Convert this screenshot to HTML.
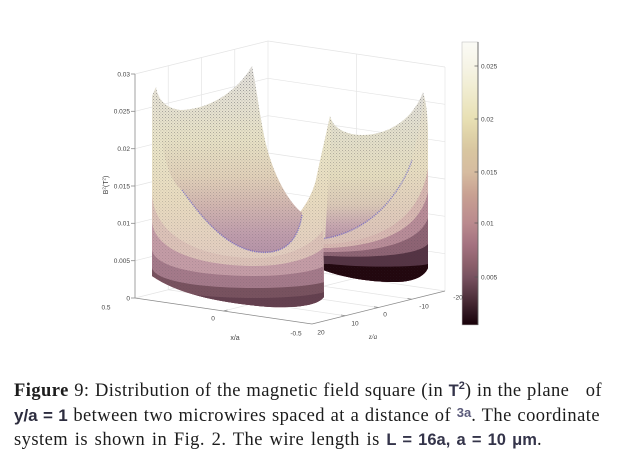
<!DOCTYPE html>
<html><head><meta charset="utf-8">
<style>
html,body{margin:0;padding:0;background:#fff;}
body{width:617px;height:469px;position:relative;overflow:hidden;}
svg{position:absolute;left:0;top:0;}
.ln{position:absolute;left:14px;font-family:"Liberation Serif",serif;font-size:18.5px;line-height:22px;color:#1c1c1c;white-space:nowrap;text-align:justify;text-align-last:justify;letter-spacing:0.45px;}
.m{font-family:"Liberation Sans",sans-serif;font-weight:bold;color:#34344a;font-size:16.5px;letter-spacing:0;}
.sp{position:relative;top:-7px;font-size:11px;}
</style></head><body>
<svg width="617" height="469" viewBox="0 0 617 469">
<defs>
<pattern id="dots" width="3" height="3" patternUnits="userSpaceOnUse">
<rect x="0" y="0" width="1" height="1" fill="#3a3a44"/>
<rect x="1.5" y="1.5" width="0.8" height="0.8" fill="#3a3a44"/>
</pattern>
<linearGradient id="DM" gradientUnits="userSpaceOnUse" x1="0" y1="60" x2="0" y2="300">
<stop offset="0" stop-color="#fff" stop-opacity="0.45"/><stop offset="0.5" stop-color="#fff" stop-opacity="0.25"/><stop offset="1" stop-color="#fff" stop-opacity="0.1"/>
</linearGradient>
<mask id="dmask"><rect x="0" y="0" width="617" height="469" fill="url(#DM)"/></mask>
<linearGradient id="LI" gradientUnits="userSpaceOnUse" x1="0" y1="64" x2="0" y2="260">
<stop offset="0" stop-color="#e2e0dc"/><stop offset="0.18" stop-color="#e6e2d4"/><stop offset="0.39" stop-color="#e8e2c6"/><stop offset="0.57" stop-color="#e2d2ba"/><stop offset="0.72" stop-color="#d2b6b0"/><stop offset="0.87" stop-color="#bf9dac"/><stop offset="1" stop-color="#b290a6"/>
</linearGradient>
<linearGradient id="RI" gradientUnits="userSpaceOnUse" x1="0" y1="90" x2="0" y2="245">
<stop offset="0" stop-color="#e2e0dc"/><stop offset="0.29" stop-color="#e4e0cc"/><stop offset="0.55" stop-color="#e6dec0"/><stop offset="0.74" stop-color="#dccab8"/><stop offset="0.87" stop-color="#c8a8b0"/><stop offset="1" stop-color="#b08ca4"/>
</linearGradient>
<linearGradient id="LF" gradientUnits="userSpaceOnUse" x1="0" y1="88" x2="0" y2="260">
<stop offset="0" stop-color="#e8e4d8"/><stop offset="0.36" stop-color="#ebe5c8"/><stop offset="0.65" stop-color="#e9dcc0"/><stop offset="1" stop-color="#e2ccc0"/>
</linearGradient>
<linearGradient id="RF" gradientUnits="userSpaceOnUse" x1="0" y1="95" x2="0" y2="240">
<stop offset="0" stop-color="#e6e2d4"/><stop offset="0.5" stop-color="#e9dfc2"/><stop offset="1" stop-color="#dcc2b8"/>
</linearGradient>
<linearGradient id="CB" x1="0" y1="0" x2="0" y2="1">
<stop offset="0" stop-color="#fbfbf6"/><stop offset="0.085" stop-color="#f6f4e6"/><stop offset="0.17" stop-color="#f0ecd0"/><stop offset="0.272" stop-color="#e8e0b4"/><stop offset="0.329" stop-color="#dfd2a8"/><stop offset="0.382" stop-color="#d8c6a0"/><stop offset="0.459" stop-color="#d6bca0"/><stop offset="0.541" stop-color="#c8a092"/><stop offset="0.64" stop-color="#ba8a8e"/><stop offset="0.717" stop-color="#a47280"/><stop offset="0.788" stop-color="#8a5f6a"/><stop offset="0.83" stop-color="#785260"/><stop offset="0.883" stop-color="#5a3a46"/><stop offset="0.929" stop-color="#40242e"/><stop offset="0.965" stop-color="#2a121c"/><stop offset="1" stop-color="#180008"/>
</linearGradient>
<clipPath id="cLO"><path d="M156,87 C158,100 166,108 180,110 C205,110 235,95 252,66 C256,85 259,110 263,130 C268,160 282,195 301,212 L323,212 L324,297 C318,305 300,308 270,307 C230,304 180,296 152,276 L152,96 Z"/></clipPath>
<clipPath id="cLF"><path d="M145,88 L156,88 C160,150 168,180 182,190 C200,215 225,248 258,252 C285,255 298,240 302,215 L302,200 L340,200 L340,340 L145,340 Z"/></clipPath>
<clipPath id="cRO"><path d="M330,116 C333,128 345,135 363,135 C385,135 412,122 423,92 C427,105 428,120 428,140 L428,268 C424,278 410,282 395,282 C370,282 345,278 323,270 L300,268 L300,212 C306,205 313,192 316,180 C320,160 326,135 330,116 Z"/></clipPath>
<clipPath id="cRF"><path d="M295,240 L327,238 C350,234 375,220 392,197 C407,178 418,150 424,94 L440,94 L440,300 L295,300 Z"/></clipPath>
</defs>

<!-- grid -->
<g stroke="#e4e4e4" stroke-width="0.7" fill="none">
<polyline points="135,298 268,265 445,291"/>
<polyline points="135,260.7 268,227.7 445,253.7"/>
<polyline points="135,223.3 268,190.3 445,216.3"/>
<polyline points="135,186 268,153 445,179"/>
<polyline points="135,148.7 268,115.7 445,141.7"/>
<polyline points="135,111.3 268,78.3 445,104.3"/>
<polyline points="135,74 268,41 445,67"/>
<line x1="168.25" y1="289.75" x2="168.25" y2="65.75"/>
<line x1="201.5" y1="281.5" x2="201.5" y2="57.5"/>
<line x1="234.75" y1="273.25" x2="234.75" y2="49.25"/>
<line x1="268" y1="265" x2="268" y2="41"/>
<line x1="356.5" y1="278" x2="356.5" y2="54"/>
<line x1="445" y1="291" x2="445" y2="67"/>
<line x1="223.5" y1="311" x2="356.5" y2="278"/>
<line x1="168.25" y1="289.75" x2="345.25" y2="315.75"/>
<line x1="201.5" y1="281.5" x2="378.5" y2="307.5"/>
<line x1="234.75" y1="273.25" x2="411.75" y2="299.25"/>
</g>

<!-- axes -->
<g stroke="#8a8a8a" stroke-width="0.8" fill="none">
<line x1="135" y1="298" x2="135" y2="74"/>
<line x1="135" y1="298" x2="312" y2="324"/>
<line x1="312" y1="324" x2="445" y2="291"/>
<line x1="131" y1="298" x2="135" y2="298"/><line x1="131" y1="260.7" x2="135" y2="260.7"/><line x1="131" y1="223.3" x2="135" y2="223.3"/><line x1="131" y1="186" x2="135" y2="186"/><line x1="131" y1="148.7" x2="135" y2="148.7"/><line x1="131" y1="111.3" x2="135" y2="111.3"/><line x1="131" y1="74" x2="135" y2="74"/>
<line x1="223.5" y1="311" x2="227.5" y2="310"/>
<line x1="345.25" y1="315.75" x2="341" y2="315"/><line x1="378.5" y1="307.5" x2="374" y2="306.8"/><line x1="411.75" y1="299.25" x2="407.5" y2="298.5"/>
</g>

<!-- right sheet -->
<g clip-path="url(#cRO)">
<rect x="290" y="85" width="150" height="210" fill="url(#RI)"/>
<path d="M298,100 L333,100 C331,150 327,200 325,242 L298,242 Z" fill="url(#LF)"/>
<g clip-path="url(#cRF)">
<rect x="290" y="85" width="150" height="210" fill="url(#RF)"/>
<path d="M295,244 L330,244 C365,241 418,230 428,168 L440,168 L440,300 L295,300 Z" fill="#d8b8b2"/>
<path d="M295,248 L330,248 C365,246 418,238 428,192 L440,192 L440,300 L295,300 Z" fill="#b88c98"/>
<path d="M295,252 L330,252 C365,252 418,247 428,218 L440,218 L440,300 L295,300 Z" fill="#8e6474"/>
<path d="M295,256 L330,256 C365,258 418,256 428,244 L440,244 L440,300 L295,300 Z" fill="#553444"/>
<path d="M295,264 L330,264 C365,268 418,267 428,264 L440,264 L440,300 L295,300 Z" fill="#22070e"/>
</g>
<rect x="290" y="85" width="150" height="210" fill="url(#dots)" mask="url(#dmask)"/>
<path d="M322,239 L327,238 C350,234 375,220 392,197 C402,184 408,172 412,160" fill="none" stroke="#4c48d0" stroke-width="1.4" stroke-dasharray="1.2 1" opacity="0.55"/>
</g>

<!-- left sheet -->
<g clip-path="url(#cLO)">
<rect x="145" y="60" width="190" height="260" fill="url(#LI)"/>
<g clip-path="url(#cLF)">
<rect x="145" y="60" width="190" height="280" fill="url(#LF)"/>
<path d="M145,195 L152,195 C156,242 210,258 255,258 C295,258 320,238 324,228 L340,228 L340,340 L145,340 Z" fill="#dcc2b8"/>
<path d="M145,222 L152,222 C156,255 210,266 255,266 C295,266 320,253 324,247 L340,247 L340,340 L145,340 Z" fill="#c49ca6"/>
<path d="M145,250 L152,250 C156,270 210,276 255,276 C295,276 320,269 324,266 L340,266 L340,340 L145,340 Z" fill="#a47a8a"/>
<path d="M145,268 L152,268 C156,283 210,288 255,288 C295,288 320,284 324,282 L340,282 L340,340 L145,340 Z" fill="#78525f"/>
<path d="M145,280 L152,280 C156,293 210,298 255,298 C295,298 320,294 324,292 L340,292 L340,340 L145,340 Z" fill="#64404f"/>
</g>
<rect x="145" y="60" width="190" height="260" fill="url(#dots)" mask="url(#dmask)"/>
<path d="M182,190 C200,215 225,248 258,252 C285,255 298,240 302,215" fill="none" stroke="#4c48d0" stroke-width="1.4" stroke-dasharray="1.2 1" opacity="0.55"/>
</g>

<!-- colorbar -->
<rect x="462" y="42" width="16" height="283" fill="url(#CB)" stroke="#c4c4c4" stroke-width="0.6"/>
<line x1="478" y1="42" x2="478" y2="325" stroke="#555" stroke-width="0.8"/>
<g stroke="#555" stroke-width="0.7">
<line x1="474.5" y1="66" x2="478" y2="66"/><line x1="474.5" y1="119" x2="478" y2="119"/><line x1="474.5" y1="172" x2="478" y2="172"/><line x1="474.5" y1="223" x2="478" y2="223"/><line x1="474.5" y1="277" x2="478" y2="277"/>
</g>

<g font-family="Liberation Sans, sans-serif" font-size="6.5" fill="#444">
<text x="481" y="68.3">0.025</text>
<text x="481" y="121.3">0.02</text>
<text x="481" y="174.3">0.015</text>
<text x="481" y="225.3">0.01</text>
<text x="481" y="279.3">0.005</text>
<g text-anchor="end">
<text x="130" y="76.3">0.03</text>
<text x="130" y="113.6">0.025</text>
<text x="130" y="151">0.02</text>
<text x="130" y="188.3">0.015</text>
<text x="130" y="225.6">0.01</text>
<text x="130" y="263">0.005</text>
<text x="130" y="300.3">0</text>
</g>
<g text-anchor="middle">
<text x="106" y="309.5">0.5</text>
<text x="213" y="320.5">0</text>
<text x="296" y="335.5">-0.5</text>
<text x="321" y="334.5">20</text>
<text x="355" y="325.5">10</text>
<text x="385" y="316.5">0</text>
<text x="424" y="308.5">-10</text>
<text x="458" y="299.5">-20</text>
<text x="235" y="340" font-size="7">x/a</text>
<text x="373" y="339" font-size="7" font-style="italic" font-family="Liberation Serif, serif">z/a</text>
<text transform="translate(108,185) rotate(-90)" font-size="7">B<tspan font-size="4.5" dy="-2.5">2</tspan><tspan dy="2.5">(T</tspan><tspan font-size="4.5" dy="-2.5">2</tspan><tspan dy="2.5">)</tspan></text>
</g>
</g>
</svg>

<div class="ln" style="top:380px;width:588px;"><b>Figure</b> 9: Distribution of the magnetic field square (in <span class="m">T<span class="sp">2</span></span>) in the plane&nbsp;&nbsp; of</div>
<div class="ln" style="top:405px;width:586px;"><span class="m" style="color:#2c2c3e;font-size:17px;">y/a = 1</span> between two microwires spaced at a distance of <span class="m" style="font-size:13px;color:#5a5a7a;position:relative;top:-4px;">3a</span>. The coordinate</div>
<div class="ln" style="top:429px;width:528px;">system is shown in Fig. 2. The wire length is <span class="m">L = 16a, a = 10 μm</span>.</div>
</body></html>
